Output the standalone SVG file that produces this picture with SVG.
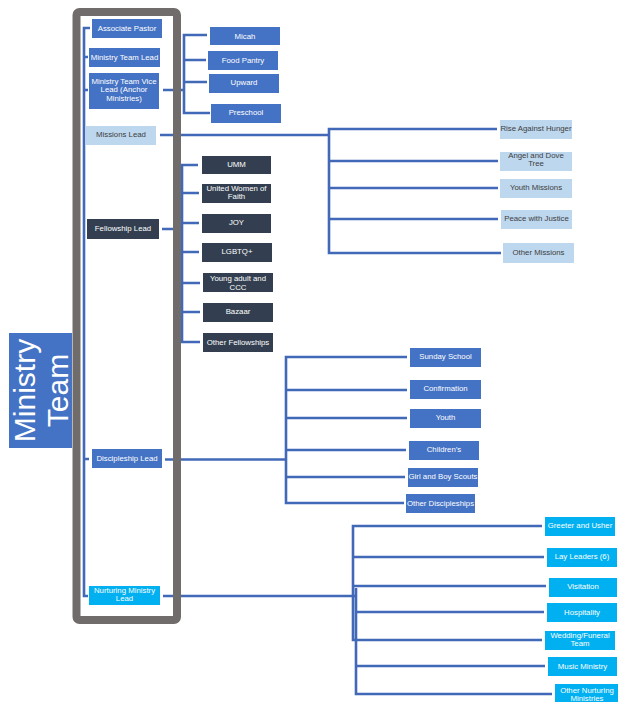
<svg xmlns="http://www.w3.org/2000/svg" width="618" height="702" viewBox="0 0 618 702">
<style>
text{font-family:"Liberation Sans",Arial,sans-serif;font-size:7.8px;text-anchor:middle}
.b rect{fill:#4472c4}.b text{fill:#fff}
.l rect{fill:#bdd7ee}.l text{fill:#404040}
.d rect{fill:#333f50}.d text{fill:#fff}
.c rect{fill:#00b0f0}.c text{fill:#fff}
#connectors path{fill:none;stroke:#4169b8;stroke-width:2.6}
</style>
<rect width="618" height="702" fill="#fff"/>
<g id="title" class="b">
<rect x="9" y="333" width="63" height="115"/>
<text transform="translate(35,390.5) rotate(-90)" style="font-size:30px">Ministry</text>
<text transform="translate(68,390.5) rotate(-90)" style="font-size:30px">Team</text>
</g>
<g id="connectors">
<path d="M90,28 H84 V596 H88"/>
<path d="M84,57 H88 M84,90 H88 M84,459 H89"/>
<path d="M163,90 H184 M207,35 H184 V113 H210 M184,60 H206 M184,82 H207"/>
<path d="M160,135 H329 M497,129 H329 V253 H501 M329,161 H498 M329,188 H498 M329,219 H498"/>
<path d="M162,229 H182 M198,165 H182 V342 H200 M182,193 H199 M182,223 H199 M182,252 H199 M182,283 H200 M182,312 H200"/>
<path d="M165,459.5 H286 M407,357 H286 V503 H404 M286,390 H407 M286,418 H407 M286,450 H406 M286,477 H405"/>
<path d="M163,596 H355 M542,526 H353 V640 H542 M353,557 H544 M353,586 H546 M356,588 V694 H552 M356,612 H544 M356,666 H545"/>
</g>
<rect id="frame" x="76.5" y="12" width="100.5" height="608" rx="3" fill="none" stroke="#706c6c" stroke-width="8"/>
<g id="associate-pastor" class="b"><rect x="92" y="19" width="70" height="19"/><text x="127" y="31">Associate Pastor</text></g>
<g id="ministry-team-lead" class="b"><rect x="89" y="48" width="71" height="19"/><text x="124.5" y="60">Ministry Team Lead</text></g>
<g id="vice-lead" class="b"><rect x="89" y="73" width="70" height="36"/><text x="124" y="84">Ministry Team Vice</text><text x="124" y="92">Lead (Anchor</text><text x="124" y="101">Ministries)</text></g>
<g id="micah" class="b"><rect x="210" y="27" width="70" height="18"/><text x="245" y="39">Micah</text></g>
<g id="food-pantry" class="b"><rect x="208" y="51" width="70" height="19"/><text x="243" y="63">Food Pantry</text></g>
<g id="upward" class="b"><rect x="209" y="74" width="70" height="19"/><text x="244" y="85">Upward</text></g>
<g id="preschool" class="b"><rect x="211" y="104" width="70" height="19"/><text x="246" y="115">Preschool</text></g>
<g id="missions-lead" class="l"><rect x="86" y="126" width="70" height="19"/><text x="121" y="137">Missions Lead</text></g>
<g id="rise-against-hunger" class="l"><rect x="500" y="120" width="72" height="19"/><text x="536" y="131">Rise Against Hunger</text></g>
<g id="angel-dove-tree" class="l"><rect x="500" y="152" width="72" height="19"/><text x="536" y="158">Angel and Dove</text><text x="536" y="166">Tree</text></g>
<g id="youth-missions" class="l"><rect x="500" y="179" width="72" height="19"/><text x="536" y="190">Youth Missions</text></g>
<g id="peace-with-justice" class="l"><rect x="501" y="210" width="71" height="19"/><text x="536.5" y="221">Peace with Justice</text></g>
<g id="other-missions" class="l"><rect x="503" y="243" width="71" height="20"/><text x="538.5" y="255">Other Missions</text></g>
<g id="fellowship-lead" class="d"><rect x="87" y="219" width="72" height="20"/><text x="123" y="231">Fellowship Lead</text></g>
<g id="umm" class="d"><rect x="202" y="156" width="69" height="18"/><text x="236.5" y="167">UMM</text></g>
<g id="united-women" class="d"><rect x="202" y="184" width="69" height="19"/><text x="236.5" y="191">United Women of</text><text x="236.5" y="199">Faith</text></g>
<g id="joy" class="d"><rect x="202" y="214" width="69" height="19"/><text x="236.5" y="225">JOY</text></g>
<g id="lgbtq" class="d"><rect x="202" y="243" width="70" height="19"/><text x="237" y="254">LGBTQ+</text></g>
<g id="young-adult" class="d"><rect x="203" y="273" width="70" height="19"/><text x="238" y="281">Young adult and</text><text x="238" y="290">CCC</text></g>
<g id="bazaar" class="d"><rect x="203" y="303" width="70" height="19"/><text x="238" y="314">Bazaar</text></g>
<g id="other-fellowships" class="d"><rect x="203" y="333" width="70" height="19"/><text x="238" y="345">Other Fellowships</text></g>
<g id="discipleship-lead" class="b"><rect x="92" y="449" width="70" height="19"/><text x="127" y="461">Discipleship Lead</text></g>
<g id="sunday-school" class="b"><rect x="410" y="348" width="71" height="19"/><text x="445.5" y="359">Sunday School</text></g>
<g id="confirmation" class="b"><rect x="410" y="380" width="71" height="19"/><text x="445.5" y="391">Confirmation</text></g>
<g id="youth" class="b"><rect x="410" y="409" width="71" height="19"/><text x="445.5" y="420">Youth</text></g>
<g id="childrens" class="b"><rect x="409" y="441" width="70" height="19"/><text x="444" y="452">Children’s</text></g>
<g id="scouts" class="b"><rect x="408" y="468" width="70" height="19"/><text x="443" y="479">Girl and Boy Scouts</text></g>
<g id="other-discipleships" class="b"><rect x="406" y="494" width="69" height="19"/><text x="440.5" y="506">Other Discipleships</text></g>
<g id="nurturing-lead" class="c"><rect x="89" y="586" width="71" height="19"/><text x="124.5" y="593">Nurturing Ministry</text><text x="124.5" y="601">Lead</text></g>
<g id="greeter-usher" class="c"><rect x="545" y="517" width="70" height="19"/><text x="580" y="528">Greeter and Usher</text></g>
<g id="lay-leaders" class="c"><rect x="547" y="548" width="70" height="19"/><text x="582" y="559">Lay Leaders (6)</text></g>
<g id="visitation" class="c"><rect x="549" y="578" width="68" height="19"/><text x="583" y="589">Visitation</text></g>
<g id="hospitality" class="c"><rect x="547" y="603" width="70" height="19"/><text x="582" y="615">Hospitality</text></g>
<g id="wedding-funeral" class="c"><rect x="545" y="631" width="70" height="19"/><text x="580" y="638">Wedding/Funeral</text><text x="580" y="646">Team</text></g>
<g id="music-ministry" class="c"><rect x="548" y="657" width="69" height="19"/><text x="582.5" y="669">Music Ministry</text></g>
<g id="other-nurturing" class="c"><rect x="555" y="684" width="63" height="19"/><text x="587" y="693">Other Nurturing</text><text x="587" y="701">Ministries</text></g>
</svg>
